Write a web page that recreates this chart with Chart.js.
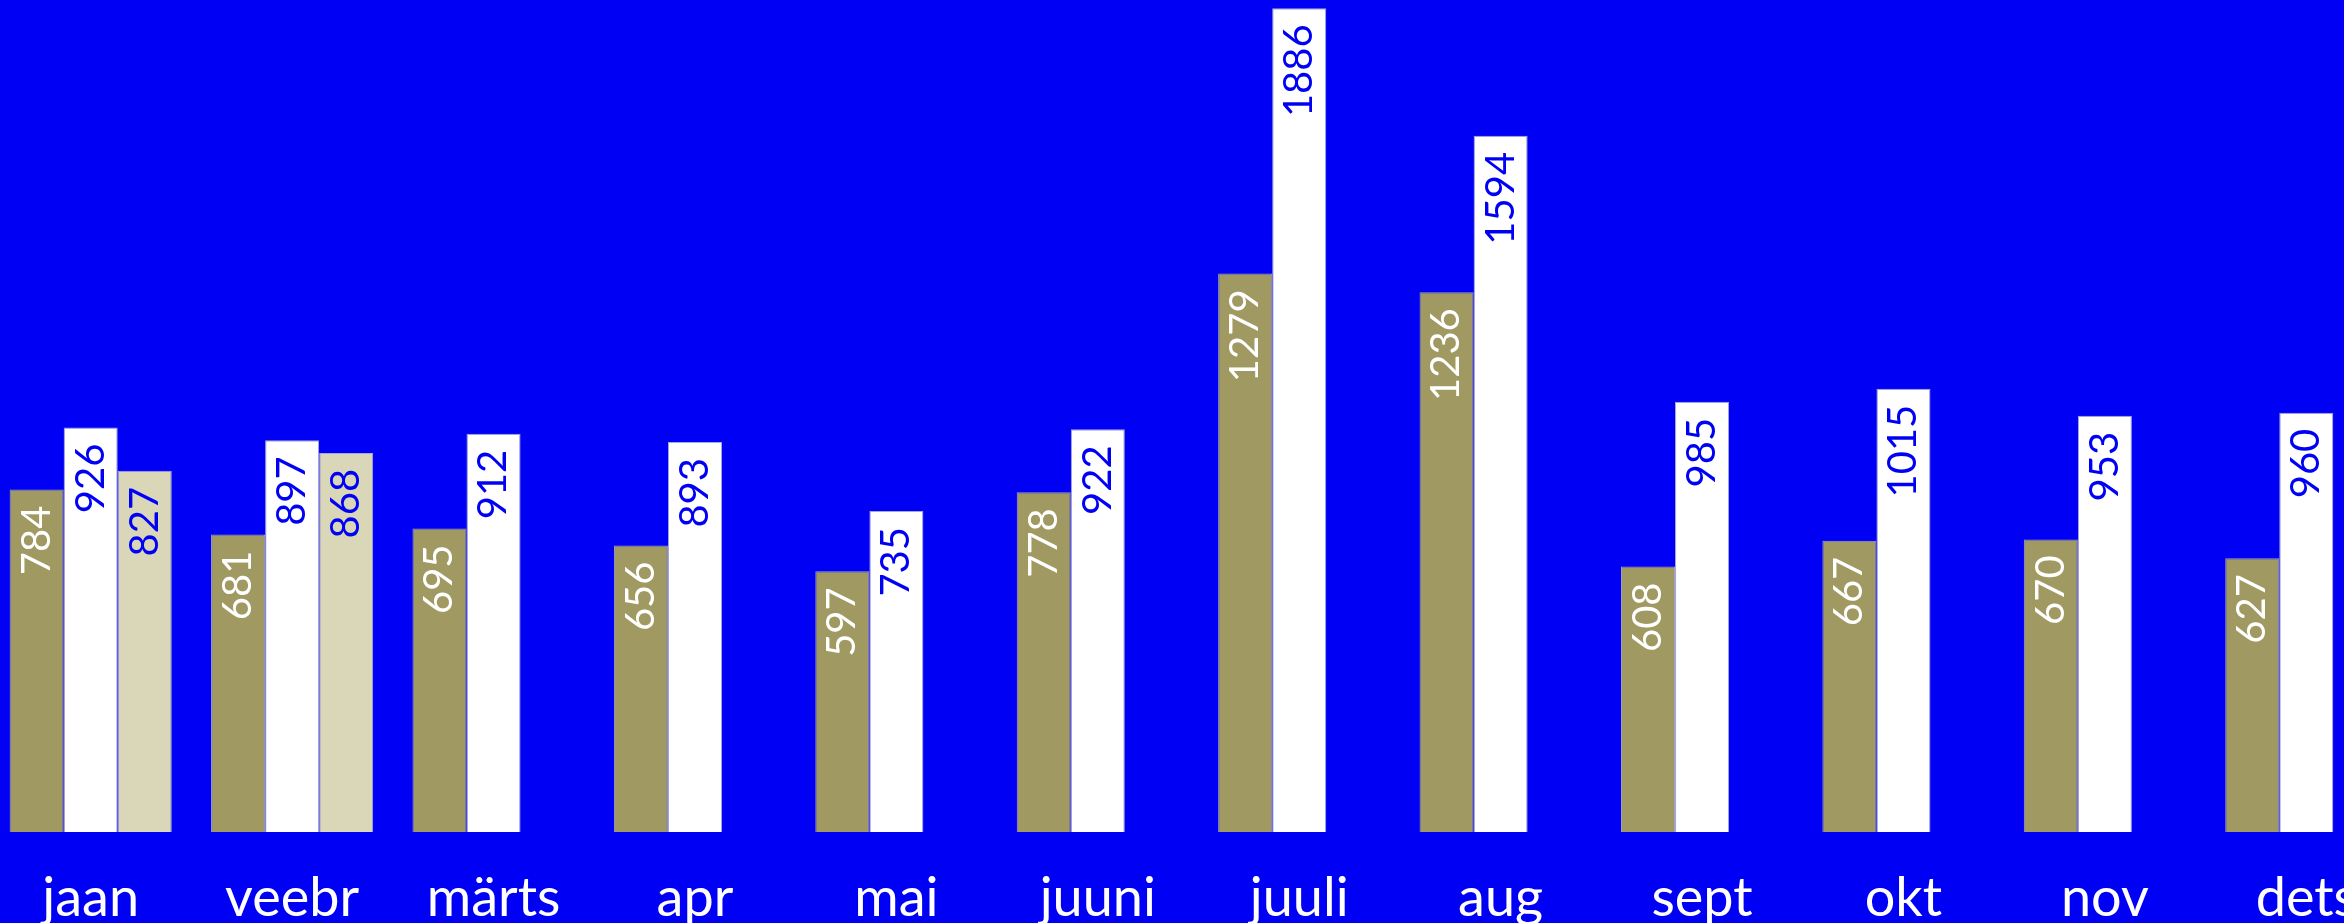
<!DOCTYPE html>
<html>
<head>
<meta charset="utf-8">
<script src="https://cdn.jsdelivr.net/npm/chart.js@4.4.1/dist/chart.umd.min.js"></script>
<style>
    html, body { margin: 0; padding: 0; background: #0000f5; overflow: hidden; width: 2344px; height: 923px; }
    #chartCanvas { position: absolute; left: -10px; top: 0; }
</style>
</head>
<body>
<canvas id="chartCanvas" width="2417" height="923"></canvas>
<script>
// month labels (Estonian)
const months = ['jaan', 'veebr', 'märts', 'apr', 'mai', 'juuni', 'juuli', 'aug', 'sept', 'okt', 'nov', 'dets'];

// three series
const seriesOlive = [784, 681, 695, 656, 597, 778, 1279, 1236, 608, 667, 670, 627];
const seriesWhite = [926, 897, 912, 893, 735, 922, 1886, 1594, 985, 1015, 953, 960];
const seriesBeige = [827, 868, null, null, null, null, null, null, null, null, null, null];

const BG = '#0000f5';
const FONT = 'Lato, "Open Sans", sans-serif';

// draws the rotated value labels inside the top of each bar
const barLabels = {
    id: 'barLabels',
    afterDatasetsDraw(chart) {
        const ctx = chart.ctx;
        chart.data.datasets.forEach((ds, i) => {
            const meta = chart.getDatasetMeta(i);
            meta.data.forEach((bar, j) => {
                const v = ds.data[j];
                if (v === null || v === undefined) return;
                ctx.save();
                ctx.translate(bar.x, bar.y + 16);
                ctx.rotate(-Math.PI / 2);
                ctx.font = '40px ' + FONT;
                ctx.fillStyle = ds.labelColor;
                ctx.textAlign = 'right';
                ctx.textBaseline = 'middle';
                ctx.fillText(String(v), 0, 0);
                ctx.restore();
            });
        });
    }
};

const ctx = document.getElementById('chartCanvas').getContext('2d');
new Chart(ctx, {
    type: 'bar',
    data: {
        labels: months,
        datasets: [
            { data: seriesOlive, backgroundColor: '#a09a62', borderColor: '#a4a2b8', borderWidth: 1, labelColor: '#ffffff' },
            { data: seriesWhite, backgroundColor: '#ffffff', borderColor: '#a8a8d8', borderWidth: 1, labelColor: BG },
            { data: seriesBeige, backgroundColor: '#dad6b8', borderColor: '#a8a8d8', borderWidth: 1, labelColor: BG }
        ]
    },
    options: {
        responsive: false,
        animation: false,
        layout: { padding: 0 },
        datasets: { bar: { categoryPercentage: 0.805, barPercentage: 1.0 } },
        plugins: { legend: { display: false }, tooltip: { enabled: false } },
        scales: {
            x: {
                grid: { display: false, drawTicks: false },
                border: { display: false },
                ticks: {
                    color: '#ffffff',
                    font: { family: FONT, size: 54 },
                    padding: 34,
                    autoSkip: false,
                    maxRotation: 0
                },
                afterFit(scale) { scale.height = 91; }
            },
            y: {
                display: false,
                min: 0,
                max: 1905
            }
        }
    },
    plugins: [
        {
            id: 'bg',
            beforeDraw(chart) {
                const c = chart.ctx;
                c.save();
                c.fillStyle = BG;
                c.fillRect(0, 0, chart.width, chart.height);
                c.restore();
            }
        },
        barLabels
    ]
});
</script>
</body>
</html>
